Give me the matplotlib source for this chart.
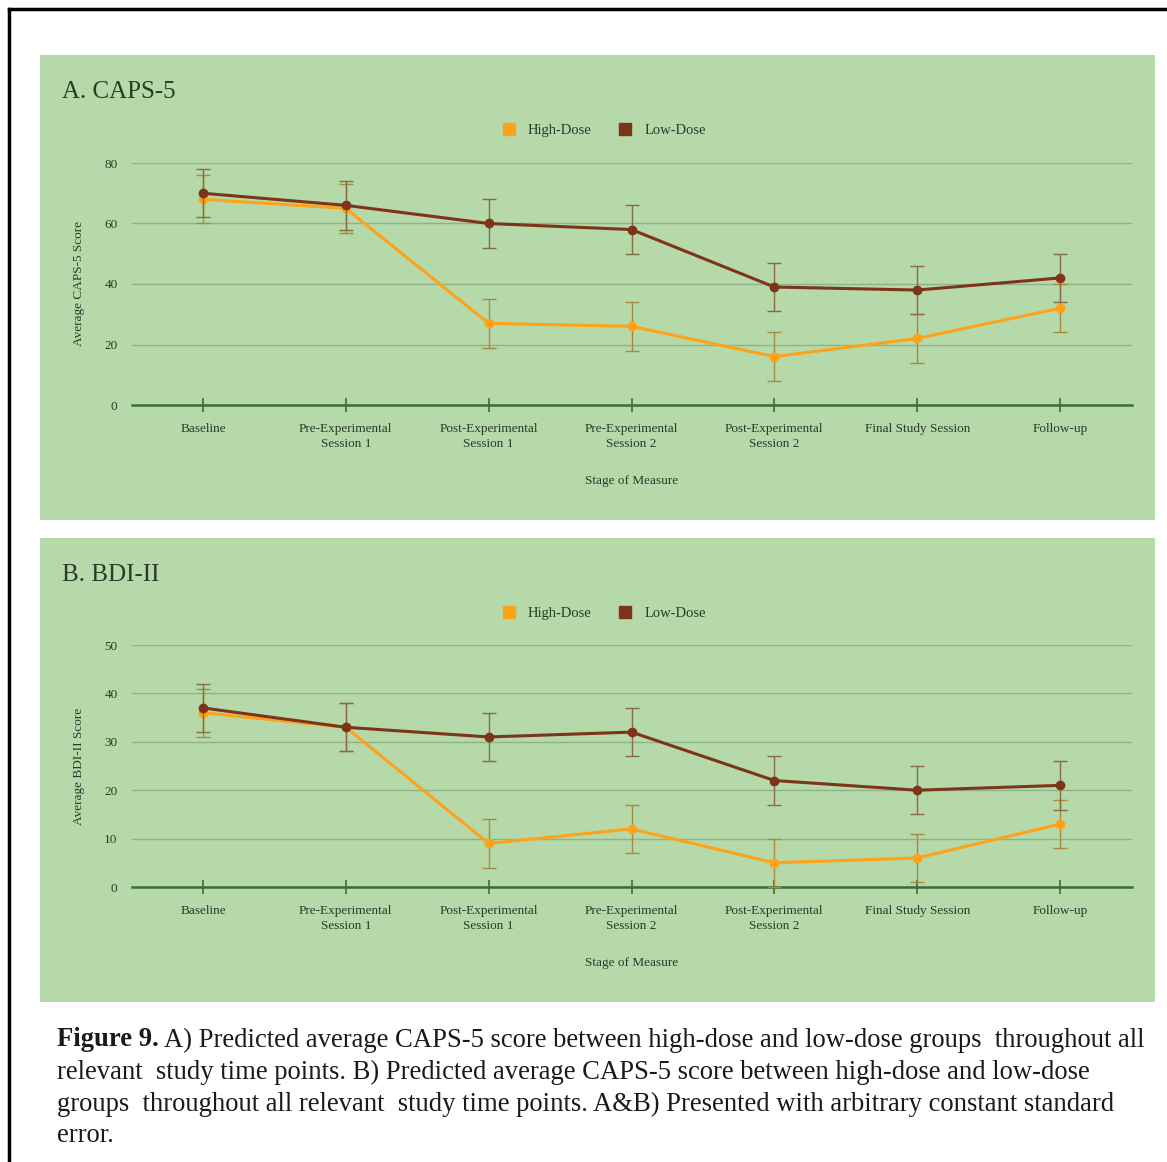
import matplotlib.pyplot as plt
from matplotlib.patches import Rectangle
from matplotlib.lines import Line2D
import numpy as np

W, H = 1167, 1162

stages = [
    "Baseline",
    "Pre-Experimental\nSession 1",
    "Post-Experimental\nSession 1",
    "Pre-Experimental\nSession 2",
    "Post-Experimental\nSession 2",
    "Final Study Session",
    "Follow-up",
]

caps_high = [68, 65, 27, 26, 16, 22, 32]
caps_low = [70, 66, 60, 58, 39, 38, 42]
caps_se = 8

bdi_high = [36, 33, 9, 12, 5, 6, 13]
bdi_low = [37, 33, 31, 32, 22, 20, 21]
bdi_se = 5

HIGH_C = "#ffa21a"
LOW_C = "#7e3418"
BG = "#b6d9a9"
GRID_C = "#8db489"
AXIS_C = "#3f6a3c"
TXT_C = "#2b3a2a"
SERIF = "Liberation Serif"


def fx(px):
    return px / W


def fy(py):
    return 1 - py / H


def panel(fig, top, bottom, y0_px, ytop_px, ymax, ystep, title, ylabel,
          high, low, se):
    fig.patches.append(Rectangle((fx(40), fy(bottom)), fx(1155 - 40), (bottom - top) / H,
                                 transform=fig.transFigure, facecolor=BG,
                                 edgecolor="none", zorder=-10))
    fig.text(fx(62), fy(top + 37), title, fontsize=18, family=SERIF,
             color=TXT_C, va="center", ha="left")

    left_px, right_px = 131.5, 1131.5
    ax = fig.add_axes([fx(left_px), fy(y0_px), fx(right_px - left_px), (y0_px - ytop_px) / H])
    ax.set_facecolor("none")
    x = np.arange(len(stages))
    ax.errorbar(x, high, yerr=se, color=HIGH_C, lw=2.2, marker="o", ms=6,
                ecolor="#a98a3a", elinewidth=1.0, capsize=5, capthick=1.0,
                label="High-Dose", zorder=3, clip_on=False)
    ax.errorbar(x, low, yerr=se, color=LOW_C, lw=2.2, marker="o", ms=6,
                ecolor="#8a6a40", elinewidth=1.0, capsize=5, capthick=1.0,
                label="Low-Dose", zorder=4, clip_on=False)
    ax.set_xlim(-0.5, len(stages) - 0.5)
    ax.set_ylim(0, ymax)
    ax.set_yticks(np.arange(0, ymax + 1, ystep))
    ax.grid(axis="y", color=GRID_C, lw=1.0)
    ax.set_axisbelow(True)
    for s in ["top", "right", "left"]:
        ax.spines[s].set_visible(False)
    ax.spines["bottom"].set_color(AXIS_C)
    ax.spines["bottom"].set_linewidth(1.8)
    ax.set_xticks(x)
    ax.set_xticklabels(stages, fontsize=9.5, family=SERIF, color=TXT_C,
                       linespacing=1.3)
    ax.tick_params(axis="x", direction="inout", length=10, width=1.2,
                   color=AXIS_C, pad=8)
    ax.tick_params(axis="y", length=0, labelsize=9.5, labelcolor=TXT_C, pad=10)
    for lab in ax.get_yticklabels():
        lab.set_family(SERIF)
    ax.set_xlabel("Stage of Measure", fontsize=9.5, family=SERIF, color=TXT_C,
                  labelpad=18)
    ax.set_ylabel(ylabel, fontsize=9.5, family=SERIF, color=TXT_C, labelpad=14)

    handles = [Line2D([], [], marker="s", ls="none", color=HIGH_C, ms=8),
               Line2D([], [], marker="s", ls="none", color=LOW_C, ms=8)]
    fig.legend(handles, ["High-Dose", "Low-Dose"], loc="center",
               bbox_to_anchor=(fx(600), fy(top + 75)), ncol=2, frameon=False,
               prop={"family": SERIF, "size": 10.5}, labelcolor=TXT_C,
               handletextpad=0.3, columnspacing=1.3)
    return ax


fig = plt.figure(figsize=(W / 100, H / 100), dpi=100)

fig.add_artist(Line2D([fx(9), fx(1167)], [fy(9), fy(9)], color="black", lw=2.5,
                      transform=fig.transFigure))
fig.add_artist(Line2D([fx(9), fx(9)], [fy(9), fy(1162)], color="black", lw=2.5,
                      transform=fig.transFigure))

panel(fig, 55, 520, 405, 163, 80, 20, "A. CAPS-5", "Average CAPS-5 Score",
      caps_high, caps_low, caps_se)
panel(fig, 538, 1002, 887, 645, 50, 10, "B. BDI-II", "Average BDI-II Score",
      bdi_high, bdi_low, bdi_se)

caption_lines = [
    "A) Predicted average CAPS-5 score between high-dose and low-dose groups  throughout all",
    "relevant  study time points. B) Predicted average CAPS-5 score between high-dose and low-dose",
    "groups  throughout all relevant  study time points. A&B) Presented with arbitrary constant standard",
    "error.",
]
cap_size = 19.2
bold = fig.text(fx(57), fy(1040), "Figure 9.", fontsize=cap_size, family=SERIF,
                weight="bold", va="center", ha="left", color="#1a1a1a")
renderer = fig.canvas.get_renderer()
bb = bold.get_window_extent(renderer)
fig.text((bb.x1 + 5) / W, fy(1040), caption_lines[0], fontsize=cap_size,
         family=SERIF, va="center", ha="left", color="#1a1a1a")
for i, line in enumerate(caption_lines[1:], start=1):
    fig.text(fx(57), fy(1040 + 32 * i), line, fontsize=cap_size, family=SERIF,
             va="center", ha="left", color="#1a1a1a")

fig.savefig("out.png", dpi=100, facecolor="white")
